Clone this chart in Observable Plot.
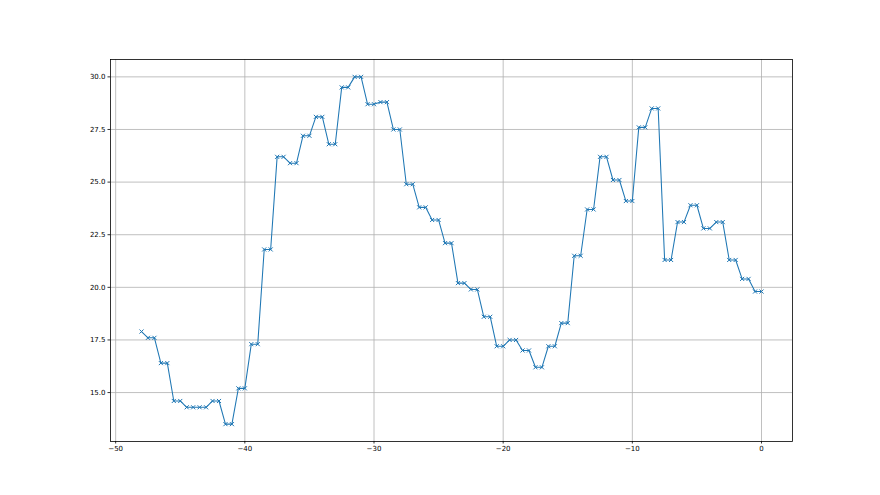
<!DOCTYPE html>
<html>
<head>
<meta charset="utf-8">
<script src="https://cdn.jsdelivr.net/npm/d3@7"></script>
<script src="https://cdn.jsdelivr.net/npm/@observablehq/plot@0.6"></script>
<style>
  html, body { margin: 0; padding: 0; background: #fff; }
  #chart svg { display: block; }
</style>
</head>
<body>
<div id="chart"></div>
<script>
const xValues = [
  -48,
  -47.5, -47, -46.5, -46, -45.5, -45, -44.5, -44, -43.5, -43,
  -42.5, -42, -41.5, -41, -40.5, -40, -39.5, -39, -38.5, -38,
  -37.5, -37, -36.5, -36, -35.5, -35, -34.5, -34, -33.5, -33,
  -32.5, -32, -31.5, -31, -30.5, -30, -29.5, -29, -28.5, -28,
  -27.5, -27, -26.5, -26, -25.5, -25, -24.5, -24, -23.5, -23,
  -22.5, -22, -21.5, -21, -20.5, -20, -19.5, -19, -18.5, -18,
  -17.5, -17, -16.5, -16, -15.5, -15, -14.5, -14, -13.5, -13,
  -12.5, -12, -11.5, -11, -10.5, -10, -9.5, -9, -8.5, -8,
  -7.5, -7, -6.5, -6, -5.5, -5, -4.5, -4, -3.5, -3,
  -2.5, -2, -1.5, -1, -0.5, 0
];
const yValues = [
  17.9,
  17.6, 17.6, 16.4, 16.4, 14.6, 14.6, 14.3, 14.3, 14.3, 14.3,
  14.6, 14.6, 13.5, 13.5, 15.2, 15.2, 17.3, 17.3, 21.8, 21.8,
  26.2, 26.2, 25.9, 25.9, 27.2, 27.2, 28.1, 28.1, 26.8, 26.8,
  29.5, 29.5, 30.0, 30.0, 28.7, 28.7, 28.8, 28.8, 27.5, 27.5,
  24.9, 24.9, 23.8, 23.8, 23.2, 23.2, 22.1, 22.1, 20.2, 20.2,
  19.9, 19.9, 18.6, 18.6, 17.2, 17.2, 17.5, 17.5, 17.0, 17.0,
  16.2, 16.2, 17.2, 17.2, 18.3, 18.3, 21.5, 21.5, 23.7, 23.7,
  26.2, 26.2, 25.1, 25.1, 24.1, 24.1, 27.6, 27.6, 28.5, 28.5,
  21.3, 21.3, 23.1, 23.1, 23.9, 23.9, 22.8, 22.8, 23.1, 23.1,
  21.3, 21.3, 20.4, 20.4, 19.8, 19.8
];
const xTicks = [-50, -40, -30, -20, -10, 0];
const yTicks = [15.0, 17.5, 20.0, 22.5, 25.0, 27.5, 30.0];

const data = xValues.map((x, i) => ({x, y: yValues[i]}));

const xMin = d3.min(xValues), xMax = d3.max(xValues);
const yMin = d3.min(yValues), yMax = d3.max(yValues);
const xPad = (xMax - xMin) * 0.05, yPad = (yMax - yMin) * 0.05;

const blue = "#1f77b4";
const fmtX = d => d < 0 ? "\u2212" + Math.abs(d) : String(d);

const chart = Plot.plot({
  width: 880,
  height: 495,
  marginLeft: 110,
  marginRight: 88,
  marginTop: 59,
  marginBottom: 54,
  style: {fontFamily: "DejaVu Sans", fontSize: "7px", color: "#000", background: "#fff"},
  x: {domain: [xMin - xPad, xMax + xPad], ticks: xTicks},
  y: {domain: [yMin - yPad, yMax + yPad], ticks: yTicks},
  marks: [
    Plot.gridX(xTicks, {stroke: "#b0b0b0", strokeOpacity: 1, strokeWidth: 0.8}),
    Plot.gridY(yTicks, {stroke: "#b0b0b0", strokeOpacity: 1, strokeWidth: 0.8}),
    Plot.axisX({ticks: xTicks, tickFormat: fmtX, tickSize: 2.5, tickPadding: 2.5, label: null, stroke: "#000", strokeWidth: 0.8}),
    Plot.axisY({ticks: yTicks, tickFormat: d => d.toFixed(1), tickSize: 2.5, tickPadding: 2.5, label: null, stroke: "#000", strokeWidth: 0.8}),
    Plot.line(data, {x: "x", y: "y", stroke: blue, strokeWidth: 1.05}),
    Plot.dot(data, {x: "x", y: "y", symbol: "times", r: 2, stroke: blue, strokeWidth: 1}),
    Plot.frame({stroke: "#000", strokeWidth: 0.8})
  ]
});
document.getElementById("chart").appendChild(chart);
</script>
</body>
</html>
